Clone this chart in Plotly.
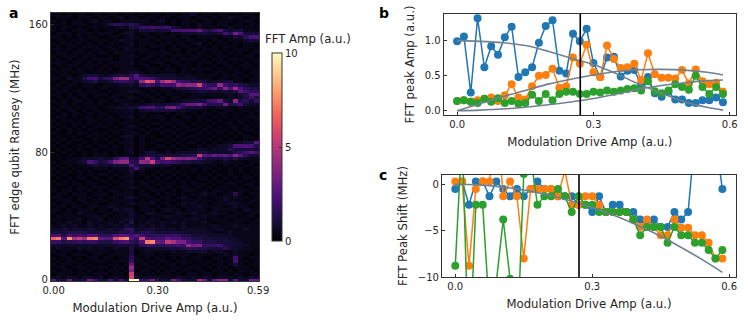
import plotly.graph_objects as go

W = 748
H = 332

drive_amp = [0.0, 0.015, 0.03, 0.045, 0.06, 0.075, 0.09, 0.105, 0.12, 0.135,
             0.15, 0.165, 0.18, 0.195, 0.21, 0.225, 0.24, 0.255, 0.27, 0.285,
             0.3, 0.315, 0.33, 0.345, 0.36, 0.375, 0.39, 0.405, 0.42, 0.435,
             0.45, 0.465, 0.48, 0.495, 0.51, 0.525, 0.54, 0.555, 0.57, 0.585]
freq_mhz = list(range(0, 168, 2))

# heatmap cells, top row first, one base-36 digit per cell (z = (digit + 0.5) * 10 / 35.5)
fft_rows = [
    "1101011011 0110110101 1011011201 1011010110",
    "0111011101 1012011011 0110111011 0101211011",
    "1010110120 1101111110 1201011101 1011101110",
    "0110111011 1455454211 1101011021 1011011011",
    "1011010110 1012143667 6673211021 1101201110",
    "1010111010 0110121333 23377888a5 4683233111",
    "0111011101 1101220110 1101122233 22375b8333",
    "1101010110 0110121011 0111011011 1101132588",
    "0110111011 1012110110 1011101101 0110111233",
    "1011010101 0110120111 0110110120 1011010111",
    "0101101110 1101110101 1101011011 0101110110",
    "1101011011 0110211110 0101101101 1101011101",
    "0110110101 1011110101 1110101011 0110101011",
    "1011101110 0101121011 0101110110 1011010110",
    "0101011011 1101110110 1011011101 0110111011",
    "1110110101 0111120101 1101101011 1011010101",
    "0101101110 1011110110 0110111010 0101101110",
    "1011010101 0101111011 1011010111 1010110101",
    "0110111011 1011122101 0111011010 0111011011",
    "1011012332 1234359332 2222112111 1101110101",
    "1102114783 56cff68876 4333222211 1011011011",
    "1010112342 2356643emk 8fjf765443 2223311011",
    "0101101110 1112231576 4777ecedk8 55e7564322",
    "1011010101 1011111011 1112334566 8a6d8f8544",
    "0110110110 0101122101 0110111233 2323249755",
    "1101011011 1011110110 1011010111 1111213499",
    "0101101010 0110121011 0101101110 0111212474",
    "1010110101 1011110101 1101122333 78a32d4536",
    "0110101101 0101211123 223348aac8 444b457322",
    "1011010110 1122233788 55bc843332 1122112111",
    "0101101011 0111120233 3333221111 0101101101",
    "1010110101 1011110110 1010110101 1011011010",
    "0110101101 0101120101 1101011011 0101010111",
    "1011010110 1110111010 0101101010 1010101101",
    "0100110101 0101110101 1010110101 0101101010",
    "1010101011 1010121010 0101011010 1010110101",
    "0101010100 0101110101 1010101101 0101010110",
    "1001011010 1010111010 0101010010 1010101001",
    "0100100101 0101220101 0010101101 0101010110",
    "1010110010 1010110100 1101010010 1010100101",
    "0101001010 0101120101 0010101101 0101112339",
    "1010010101 1010110100 1101010010 1122388884",
    "0101010010 0100120101 0010101122 1222533333",
    "0010101010 1010120133 1121222233 2222245797",
    "0101001011 1010110233 33333445i9 8a9a8d9533",
    "0101112223 2259a337h8 4bkfdcdc74 3334342211",
    "1011123863 47cee54edj 8676544332 2112111011",
    "0101011232 2233384333 2221111011 0101010110",
    "1010101011 1011138211 0101010101 1010101001",
    "0101010100 0101130100 1010100101 0100101010",
    "1010010101 1010120101 0101010010 1010100101",
    "0101011010 0101110010 1010101011 0101010110",
    "1010100101 1010120101 0101010100 1010101001",
    "0110110110 0101110110 1011010111 0101110110",
    "1001011011 1011121011 0110111010 1011011011",
    "1011010101 0110110101 1101011101 0110101101",
    "0110111011 1011110110 1011010112 1101151011",
    "1101011101 0110231011 0110121011 0112121101",
    "0111011011 1011110101 1011011111 1012111011",
    "1011101110 0110121112 0110121211 0111221110",
    "0110110111 1211110110 1011011121 1110121101",
    "1101011101 1021220111 0121101111 0111110211",
    "1011021110 1101131022 1101211211 1211011011",
    "0111101121 1011121101 1121110112 1101110110",
    "1101120112 0111231112 1011111211 0111011101",
    "0112110211 1212140121 1212121112 1011111011",
    "1121211212 1121321212 1211121111 1211121111",
    "2232332322 2323562233 2222122222 1121111211",
    "3334444333 3334453454 3333332222 2111211111",
    "7848676885 5589979755 5566644333 2222211111",
    "np9rgjfpqa 99lpr96j87 7798866443 3333221111",
    "6645565664 44678548pq a9igcc8664 4433322111",
    "2222222222 2223332566 556676ebc6 6674332211",
    "1211121212 1121141122 2233345544 3335322111",
    "1011010111 1011130121 1112112223 1221121110",
    "0110111011 0111140111 0101111011 1012121101",
    "1011010110 1101151010 1101010110 0110171011",
    "0101101011 1011161101 0110111011 1011171101",
    "1011010101 01101a0110 1011010101 0110131011",
    "0110111011 10110f1011 0101101110 1011011101",
    "1011010101 01101c0110 1011011011 0110101110",
    "0111011011 10110j1011 0110101101 1011011011",
    "1212212212 01211k3122 2111221212 2122212122",
    "933a333b73 38383zz77c 333c8333fb 3add3a33ba",
]

amp_blue = [0.99, 1.06, 0.26, 1.32, 0.62, 0.92, 0.80, 1.05, 1.20, 0.48,
            0.55, 0.62, 0.97, 1.21, 1.29, 0.57, 0.53, 1.10, 0.99, 1.17,
            0.68, 0.48, 0.76, 0.77, 0.49, 0.57, 0.58, 0.37, 0.48, 0.25,
            0.20, 0.27, 0.16, 0.16, 0.11, 0.11, 0.15, 0.15, 0.19, 0.12]
amp_orange = [0.14, 0.15, 0.13, 0.15, 0.17, 0.19, 0.14, 0.22, 0.38, 0.19,
              0.16, 0.35, 0.50, 0.51, 0.60, 0.33, 0.35, 0.76, 0.67, 0.94,
              0.55, 0.48, 0.93, 0.74, 0.61, 0.62, 0.67, 0.44, 0.82, 0.52,
              0.47, 0.47, 0.46, 0.58, 0.39, 0.59, 0.42, 0.38, 0.40, 0.27]
amp_green = [0.14, 0.15, 0.13, 0.11, 0.17, 0.13, 0.18, 0.11, 0.14, 0.10,
             0.11, 0.23, 0.14, 0.24, 0.15, 0.24, 0.27, 0.27, 0.24, 0.24,
             0.27, 0.26, 0.29, 0.27, 0.29, 0.31, 0.32, 0.29, 0.42, 0.28,
             0.25, 0.29, 0.38, 0.34, 0.30, 0.50, 0.34, 0.24, 0.34, 0.24]

fit_x = [0.0, 0.05, 0.1, 0.15, 0.2, 0.25, 0.3, 0.35, 0.4, 0.45, 0.5, 0.55, 0.585]
fit_amp_1 = [1.0, 0.99, 0.97, 0.93, 0.85, 0.75, 0.66, 0.53, 0.38, 0.25, 0.13, 0.05, 0.01]
fit_amp_2 = [0.0, 0.10, 0.20, 0.29, 0.38, 0.45, 0.51, 0.56, 0.585, 0.59, 0.58, 0.55, 0.51]
fit_amp_3 = [0.0, 0.01, 0.025, 0.05, 0.085, 0.125, 0.175, 0.24, 0.31, 0.36, 0.40, 0.43, 0.44]

shift_blue = [-0.5, 0.3, -2.2, 0.3, 0.3, -1.3, 0.3, -0.5, -1.3, -0.5,
              -1.3, -0.5, 0.3, -0.5, -0.5, -1.3, -1.3, -1.3, -2.2, -2.2,
              -3.0, -1.3, -3.0, -2.2, -2.2, -3.0, -3.0, -3.8, -4.6, -3.8,
              -4.6, -4.6, -3.0, -3.8, -3.0, 5.2, 6.0, 5.5, 4.8, -0.5]
shift_orange = [0.3, 0.3, -8.8, -0.5, 0.3, 0.3, 8.0, -1.3, 0.3, -1.3,
                -8.0, -0.5, -0.5, -0.5, -0.5, -1.3, 1.5, -2.2, -2.2, -1.3,
                -1.3, -2.2, -3.0, -3.0, -3.0, -3.0, -3.8, -4.6, -3.8, -4.6,
                -5.5, -5.5, -3.8, -4.7, -4.7, -5.5, -5.5, -6.3, -8.0, -8.0]
shift_green = [-8.8, 5.6, -20.0, -2.2, -2.2, -14.0, -10.5, -3.8, -10.2, -18.0,
               1.1, 3.0, -2.2, -1.3, -1.3, -0.5, -1.3, -3.0, -1.3, -2.2,
               -2.2, -3.0, -3.0, -3.0, -3.0, -3.0, -3.8, -5.5, -4.6, -4.6,
               -4.6, -6.3, -4.6, -5.5, -5.5, -6.3, -6.3, -7.1, -8.0, -7.1]
fit_shift = [0.0, -0.07, -0.28, -0.63, -1.1, -1.74, -2.5, -3.4, -4.45, -5.6, -6.95, -8.4, -9.5]

coupler_amp = 0.271

BLUE = "#1f77b4"
ORANGE = "#ff7f0e"
GREEN = "#2ca02c"
GRAY = "#708090"
SPINE = "#333333"
TEXT = "#262626"

z = []
for row in reversed(fft_rows):
    cells = row.replace(" ", "").ljust(40, "0")[:40]
    z.append([(int(c, 36) + 0.5) * 10 / 35.5 for c in cells])


def xdom(a, b):
    return [a / W, b / W]


def ydom(top, bottom):
    return [1 - bottom / H, 1 - top / H]


def axis(dom, rng, title, tickvals, ticktext=None, standoff=8):
    return dict(
        domain=dom,
        range=rng,
        title=dict(text=title, standoff=standoff, font=dict(size=11.7, color=TEXT)),
        tickvals=tickvals,
        ticktext=ticktext,
        ticks="inside",
        ticklen=3,
        tickwidth=1,
        tickcolor=SPINE,
        tickfont=dict(size=10, color=TEXT),
        showline=True,
        mirror=True,
        linecolor=SPINE,
        linewidth=1.2,
        showgrid=False,
        zeroline=False,
        automargin=False,
    )


def add_series(fig, x, y, color, xaxis, yaxis):
    fig.add_scatter(
        x=x, y=y, mode="lines+markers", xaxis=xaxis, yaxis=yaxis,
        line=dict(color=color, width=1.5),
        marker=dict(color=color, size=8),
    )


def add_fit(fig, y, xaxis, yaxis):
    fig.add_scatter(
        x=fit_x, y=y, mode="lines", xaxis=xaxis, yaxis=yaxis,
        line=dict(color=GRAY, width=1.6, shape="spline"),
    )


fig = go.Figure()

fig.add_heatmap(
    x=drive_amp,
    y=freq_mhz,
    z=z,
    zmin=0,
    zmax=10,
    colorscale="Magma",
    xaxis="x",
    yaxis="y",
    colorbar=dict(
        x=272 / W, xanchor="left", xpad=0,
        y=1 - 147 / H, yanchor="middle", ypad=0,
        len=188 / H, lenmode="fraction",
        thickness=10, thicknessmode="pixels",
        tickvals=[0, 5, 10],
        ticks="inside", ticklen=3, tickcolor=SPINE,
        tickfont=dict(size=10, color=TEXT),
        outlinecolor=SPINE, outlinewidth=1,
    ),
)

for vals, col in [(amp_blue, BLUE), (amp_orange, ORANGE), (amp_green, GREEN)]:
    add_series(fig, drive_amp, vals, col, "x2", "y2")
for vals in [fit_amp_1, fit_amp_2, fit_amp_3]:
    add_fit(fig, vals, "x2", "y2")

for vals, col in [(shift_blue, BLUE), (shift_orange, ORANGE), (shift_green, GREEN)]:
    add_series(fig, drive_amp, vals, col, "x3", "y3")
add_fit(fig, fit_shift, "x3", "y3")

for xref, yref in [("x2", "y2 domain"), ("x3", "y3 domain")]:
    fig.add_shape(
        type="line", x0=coupler_amp, x1=coupler_amp, y0=0, y1=1,
        xref=xref, yref=yref, line=dict(color="black", width=1.6),
    )

xlabel = "Modulation Drive Amp (a.u.)"
fig.update_layout(
    width=W,
    height=H,
    margin=dict(l=0, r=0, t=0, b=0),
    paper_bgcolor="white",
    plot_bgcolor="white",
    showlegend=False,
    font=dict(family="DejaVu Sans", color=TEXT),
    xaxis=axis(xdom(51, 259), [-0.0075, 0.5925], xlabel, [0, 0.3, 0.59], ["0.00", "0.30", "0.59"]),
    yaxis=axis(ydom(13, 281), [-0.65, 167], "FFT edge qubit Ramsey (MHz)", [0, 80, 160], standoff=6),
    xaxis2=dict(axis(xdom(443.7, 736), [-0.0295, 0.6137], xlabel, [0, 0.3, 0.6], ["0.0", "0.3", "0.6"]), anchor="y2"),
    yaxis2=dict(axis(ydom(14, 115), [-0.06, 1.38], "FFT peak Amp (a.u.)", [0, 0.5, 1], ["0.0", "0.5", "1.0"], standoff=7), anchor="x2"),
    xaxis3=dict(axis(xdom(442, 736), [-0.0291, 0.6149], xlabel, [0, 0.3, 0.6], ["0.0", "0.3", "0.6"]), anchor="y3"),
    yaxis3=dict(axis(ydom(175, 277), [-10, 1], "FFT Peak Shift (MHz)", [-10, -5, 0], standoff=7), anchor="x3"),
)

labels = [("a", 7, 13), ("b", 377, 13), ("c", 377, 175)]
for text, px, py in labels:
    fig.add_annotation(
        text=f"<b>{text}</b>", x=px / W, y=1 - py / H, xref="paper", yref="paper",
        xanchor="left", yanchor="middle", showarrow=False,
        font=dict(size=14, color="black"),
    )
fig.add_annotation(
    text="FFT Amp (a.u.)", x=263 / W, y=1 - 39 / H, xref="paper", yref="paper",
    xanchor="left", yanchor="middle", showarrow=False,
    font=dict(size=11.7, color=TEXT),
)

fig.write_html(
    "out.html",
    config={"displayModeBar": False},
    post_script="document.body.style.margin='0';document.body.style.overflow='hidden';",
)
